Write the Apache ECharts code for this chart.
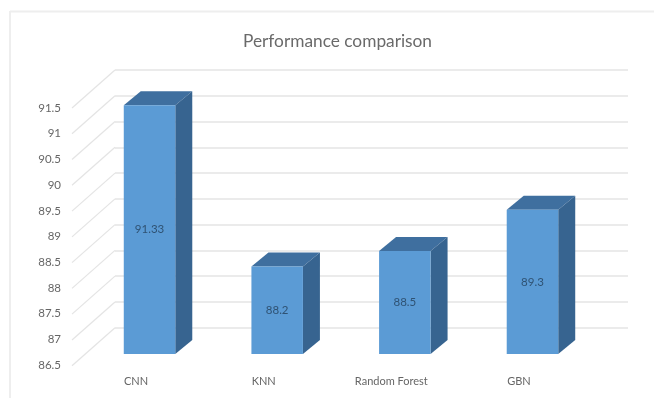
<!DOCTYPE html>
<html>
<head>
<meta charset="utf-8">
<style>html,body{margin:0;padding:0;background:#fff}#chart{width:654px;height:398px}</style>
<script src="https://cdn.jsdelivr.net/npm/echarts@6/dist/echarts.min.js"></script>
</head>
<body>
<div id="chart"></div>
<script>
const categories = ['CNN', 'KNN', 'Random Forest', 'GBN'];
const accuracy = [91.33, 88.2, 88.5, 89.3];
const axisMin = 86.5;
const axisMax = 91.5;
const axisStep = 0.5;
const ticks = [86.5, 87, 87.5, 88, 88.5, 89, 89.5, 90, 90.5, 91, 91.5];

const FONT = 'Lato, "Open Sans", sans-serif';
const GRID_COLOR = '#e4e4e4';
const TEXT_COLOR = '#666666';
const DEPTH_X = 17;   // horizontal depth of a 3D column
const DEPTH_Y = 14;   // vertical depth of a 3D column
const FLOOR_X = 43;   // wall-to-front run of the floor diagonals
const FLOOR_Y = 38;
const BAR_WIDTH = 51.5;

const chart = echarts.init(document.getElementById('chart'), null, { renderer: 'canvas' });

function valueAxis(gridIndex, extra) {
  return Object.assign({
    type: 'value', gridIndex, min: axisMin, max: axisMax, interval: axisStep,
    axisLine: { show: false }, axisTick: { show: false },
    axisLabel: { show: false }, splitLine: { show: false }
  }, extra);
}
function categoryAxis(gridIndex, extra) {
  return Object.assign({
    type: 'category', gridIndex, data: categories,
    axisLine: { show: false }, axisTick: { show: false },
    axisLabel: { show: false }, splitLine: { show: false }
  }, extra);
}

chart.setOption({
  backgroundColor: '#ffffff',
  animation: false,
  title: {
    text: 'Performance comparison', left: 332.5, top: 36, textAlign: 'center', textVerticalAlign: 'middle',
    textStyle: { fontFamily: FONT, fontSize: 17.3, fontWeight: 'normal', color: '#6a6a6a' }
  },
  // Outer chart frame: only its top and left edges show
  graphic: [
    { type: 'line', silent: true, shape: { x1: 10, y1: 11.5, x2: 654, y2: 11.5 }, style: { stroke: '#eeeeee', lineWidth: 2 } },
    { type: 'line', silent: true, shape: { x1: 10, y1: 11, x2: 10, y2: 398 }, style: { stroke: '#eeeeee', lineWidth: 2 } }
  ],
  grid: [
    { left: 115, top: 70, width: 513, height: 257.7 },   // back wall
    { left: 72, top: 108, width: 513, height: 257 },     // front plane, holds the value labels
    { left: 85.7, top: 96.4, width: 510.6, height: 257.6 }, // column plane
    { left: 72.2, top: 96.4, width: 510.6, height: 257.6 }  // category labels
  ],
  xAxis: [
    { type: 'value', gridIndex: 0, min: 0, max: 1, show: false },
    categoryAxis(1),
    categoryAxis(2),
    categoryAxis(3, {
      axisLabel: { show: true, margin: 22, interval: 0, fontFamily: FONT, fontSize: 11, color: TEXT_COLOR }
    })
  ],
  yAxis: [
    valueAxis(0, { splitLine: { show: true, lineStyle: { color: GRID_COLOR, width: 1.5 } } }),
    valueAxis(1, {
      axisLabel: {
        show: true, margin: 11, fontFamily: FONT, fontSize: 11.5, color: TEXT_COLOR,
        formatter: v => String(v)
      }
    }),
    valueAxis(2),
    valueAxis(3)
  ],
  series: [
    {
      // Floor and side-wall diagonals running forward from the back wall
      type: 'custom', xAxisIndex: 0, yAxisIndex: 0, z: 1, silent: true,
      data: ticks.map(t => [0, t]),
      renderItem(params, api) {
        const p = api.coord([0, api.value(1)]);
        return {
          type: 'line',
          shape: { x1: p[0], y1: p[1], x2: p[0] - FLOOR_X, y2: p[1] + FLOOR_Y },
          style: { stroke: GRID_COLOR, lineWidth: 1.2 }
        };
      }
    },
    {
      // Top and right faces of each column
      type: 'custom', xAxisIndex: 2, yAxisIndex: 2, z: 3, silent: true,
      data: accuracy.map((v, i) => [i, v]),
      renderItem(params, api) {
        const idx = api.value(0);
        const top = api.coord([idx, api.value(1)]);
        const base = api.coord([idx, axisMin]);
        const l = top[0] - BAR_WIDTH / 2, r = top[0] + BAR_WIDTH / 2;
        return {
          type: 'group',
          children: [
            {
              type: 'polygon',
              shape: { points: [[l, top[1]], [r, top[1]], [r + DEPTH_X, top[1] - DEPTH_Y], [l + DEPTH_X, top[1] - DEPTH_Y]] },
              style: { fill: '#3f6f9f' }
            },
            {
              type: 'polygon',
              shape: { points: [[r, top[1]], [r + DEPTH_X, top[1] - DEPTH_Y], [r + DEPTH_X, base[1] - DEPTH_Y], [r, base[1]]] },
              style: { fill: '#376490' }
            }
          ]
        };
      }
    },
    {
      // Front faces, carrying the value labels
      type: 'bar', xAxisIndex: 2, yAxisIndex: 2, z: 4, silent: true,
      barWidth: BAR_WIDTH,
      data: accuracy,
      itemStyle: { color: '#5b9bd5' },
      label: {
        show: true, position: 'inside', fontFamily: FONT, fontSize: 11.5, color: '#2f5273',
        formatter: p => String(p.value)
      }
    }
  ]
});
</script>
</body>
</html>
